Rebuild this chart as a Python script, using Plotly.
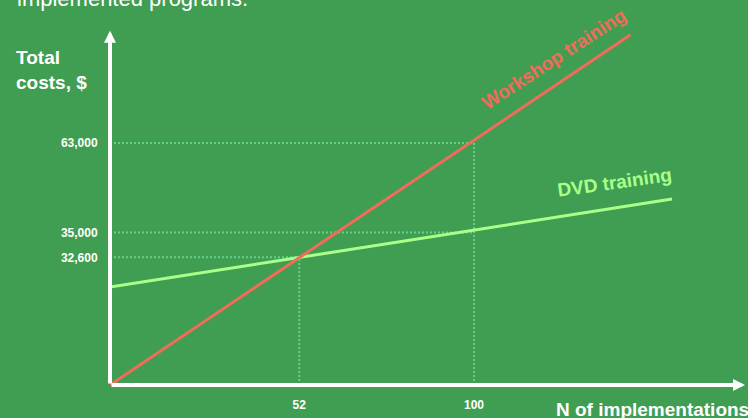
import plotly.graph_objects as go

n_workshop = [0, 143]
workshop_cost = [0, 91.9]
n_dvd = [0, 154.4]
dvd_cost = [25.7, 48.8]

x_tick_vals = [52, 100]
x_tick_text = ["52", "100"]
y_tick_vals = [33.5, 40.0, 63.5]
y_tick_text = ["32,600", "35,000", "63,000"]

# guide points: (n, cost height) where dotted guides meet
guide_n = [52, 100, 100]
guide_y = [33.5, 40.0, 63.5]

X_MAX = 175.27
Y_MAX = 101.05
X_ARROW = 174.45
Y_ARROW = 93.0

BG = "#409e52"
RED = "#f26b5b"
LGREEN = "#aaff88"
DOT = "#62d08c"
FONT = "Liberation Sans, Arial, sans-serif"

W, H = 748, 418
L, B = 110, 33
PW, PH = W - L, H - B


def px(p):
    return (p - L) / PW


def py(p):
    return (PH - p) / PH


fig = go.Figure()

# dotted guides
gx, gy = [], []
for n, y in zip(guide_n, guide_y):
    gx += [0, n, None]
    gy += [y, y, None]
for n in sorted(set(guide_n)):
    top = max(y for nn, y in zip(guide_n, guide_y) if nn == n)
    gx += [n, n, None]
    gy += [0, top, None]
fig.add_trace(go.Scatter(x=gx, y=gy, mode="lines",
                         line=dict(color=DOT, width=2, dash="2px,2px"),
                         hoverinfo="skip", showlegend=False))

fig.add_trace(go.Scatter(x=n_dvd, y=dvd_cost, mode="lines",
                         line=dict(color=LGREEN, width=3), showlegend=False))
fig.add_trace(go.Scatter(x=n_workshop, y=workshop_cost, mode="lines",
                         line=dict(color=RED, width=3), showlegend=False))

# axis arrows
for (tx, ty) in [(X_ARROW, 0), (0, Y_ARROW)]:
    fig.add_annotation(x=tx, y=ty, ax=0, ay=0, xref="x", yref="y",
                       axref="x", ayref="y", text="", showarrow=True,
                       arrowhead=2, arrowsize=0.6, arrowwidth=4,
                       arrowcolor="white", standoff=0)

white_bold = dict(family=FONT, color="white", size=19, weight="bold")

fig.add_annotation(xref="paper", yref="paper", x=px(14), y=py(70),
                   xanchor="left", yanchor="middle", align="left",
                   text="Total<br>costs, $", showarrow=False, font=white_bold)
fig.add_annotation(xref="paper", yref="paper", x=px(554), y=py(409),
                   xanchor="left", yanchor="middle",
                   text="N of implementations", showarrow=False, font=white_bold)
fig.add_annotation(xref="paper", yref="paper", x=px(15), y=py(-2),
                   xanchor="left", yanchor="middle",
                   text="implemented programs.", showarrow=False,
                   font=dict(family=FONT, color="white", size=22))
fig.add_annotation(xref="paper", yref="paper", x=px(553), y=py(59),
                   xanchor="center", yanchor="middle", textangle=-33,
                   text="Workshop training", showarrow=False,
                   font=dict(family=FONT, color=RED, size=19, weight="bold"))
fig.add_annotation(xref="paper", yref="paper", x=px(614), y=py(182),
                   xanchor="center", yanchor="middle", textangle=-8,
                   text="DVD training", showarrow=False,
                   font=dict(family=FONT, color=LGREEN, size=19, weight="bold"))

fig.update_layout(
    width=W, height=H,
    margin=dict(l=L, r=0, t=0, b=B, pad=0),
    paper_bgcolor=BG, plot_bgcolor=BG,
    showlegend=False,
    xaxis=dict(range=[0, X_MAX], showgrid=False, zeroline=False, showline=False,
               tickmode="array", tickvals=x_tick_vals, ticktext=x_tick_text,
               ticks="outside", ticklen=9, tickcolor="rgba(0,0,0,0)",
               tickfont=dict(family=FONT, color="white", size=12, weight="bold")),
    yaxis=dict(range=[0, Y_MAX], showgrid=False, zeroline=False, showline=False,
               tickmode="array", tickvals=y_tick_vals, ticktext=y_tick_text,
               ticks="outside", ticklen=9, tickcolor="rgba(0,0,0,0)",
               tickfont=dict(family=FONT, color="white", size=12, weight="bold")),
)

fig.write_html("out.html",
               config={"displayModeBar": False},
               post_script="document.body.style.margin='0px';"
                           "document.body.style.overflow='hidden';")
